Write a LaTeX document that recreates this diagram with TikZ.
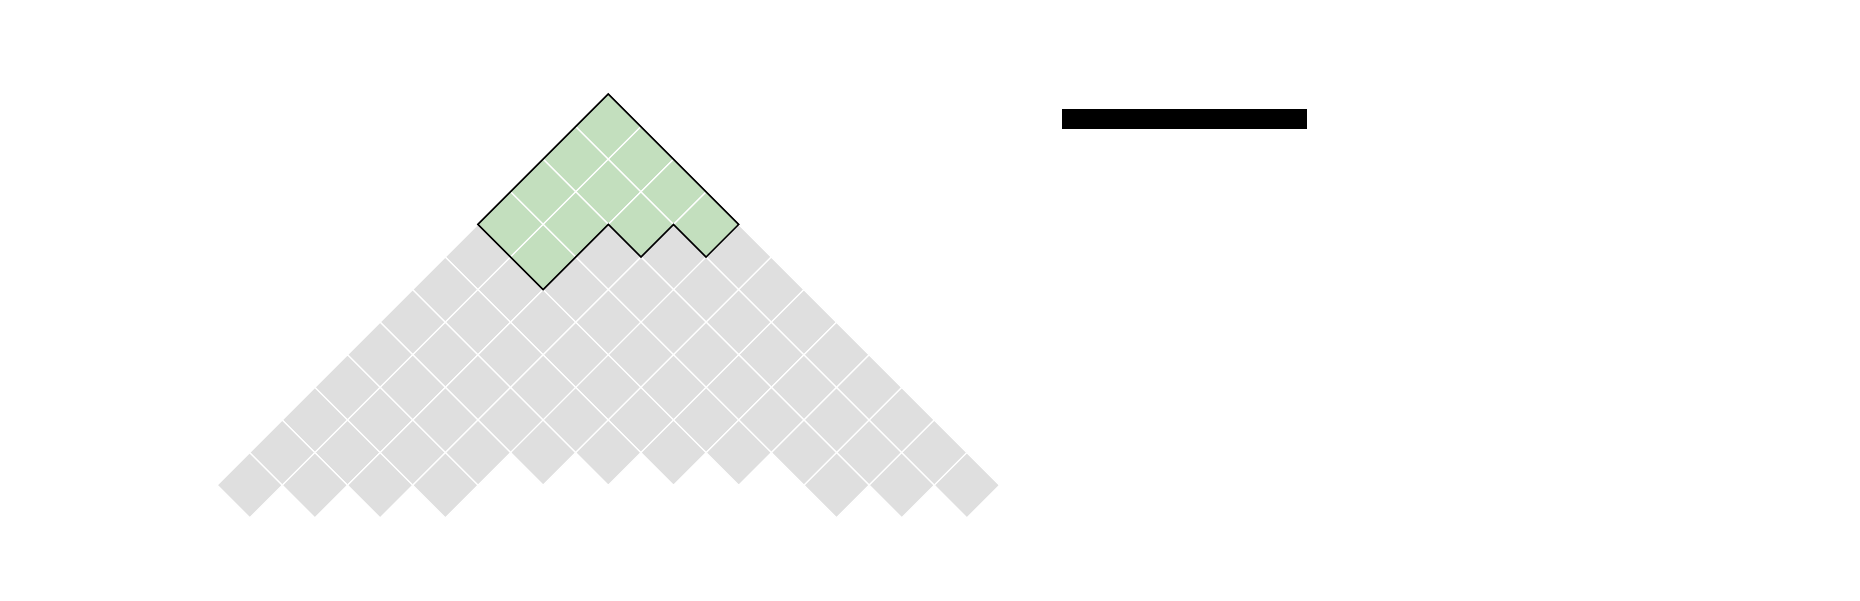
\documentclass[tikz,border=0pt]{standalone}
\usepackage{tikz}
\usepackage{xcolor}
\definecolor{cgray}{RGB}{223,223,223}
\definecolor{cgreen}{RGB}{195,223,190}

\begin{document}
\begin{tikzpicture}[
    cell/.style={fill=cgray, draw=white, line width=0.35pt},
    subcell/.style={fill=cgreen, draw=white, line width=0.35pt},
    outline/.style={draw=black, line width=0.45pt, line join=miter}
]
\useasboundingbox (0,0) rectangle (18.6,-6);

% Young diagram, Russian convention (j to the lower right, i to the lower left)
\begin{scope}[shift={(6.083,-0.94)}, x={(0.326cm,-0.326cm)}, y={(-0.326cm,-0.326cm)}]
  % outer shape
  \foreach \len [count=\i from 0] in {12,11,10,8,7,6,5,4,4,3,2,1} {
    \foreach \j in {1,...,\len} {
      \path[cell] (\j-1,\i) -- (\j,\i) -- (\j,\i+1) -- (\j-1,\i+1) -- cycle;
    }
  }
  % inner shape
  \foreach \len [count=\i from 0] in {4,3,2,2} {
    \foreach \j in {1,...,\len} {
      \path[subcell] (\j-1,\i) -- (\j,\i) -- (\j,\i+1) -- (\j-1,\i+1) -- cycle;
    }
  }
  \path[outline] (0,0) -- (4,0) -- (4,1) -- (3,1) -- (3,2) -- (2,2) -- (2,4) -- (0,4) -- cycle;
\end{scope}

% bar
\fill[black] (10.62,-1.09) rectangle (13.07,-1.29);

\end{tikzpicture}
\end{document}
